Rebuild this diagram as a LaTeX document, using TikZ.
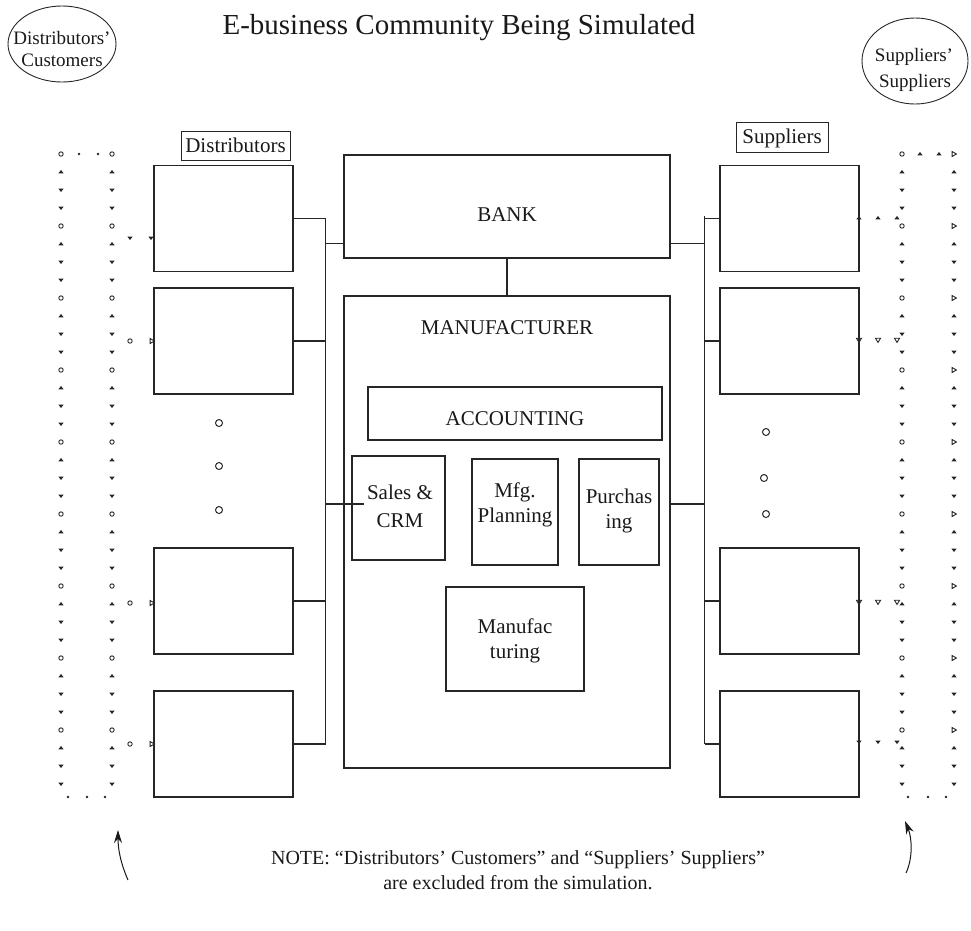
\documentclass[tikz,border=0pt]{standalone}
\usepackage{fontspec}
\setmainfont{Liberation Serif}
\usetikzlibrary{arrows.meta,shapes.geometric}
\tikzset{
  box/.style={draw=black!85, line width=1.1pt, rectangle, inner sep=0pt},
  oval/.style={draw=black!85, line width=0.9pt, ellipse, inner sep=0pt},
  wire/.style={draw=black!85, line width=1.1pt},
  txt/.style={font=\fontsize{21}{25}\selectfont, inner sep=0pt, anchor=base, text=black!90},
  smalltxt/.style={font=\fontsize{19}{23}\selectfont, inner sep=0pt, anchor=base, text=black!90},
  titletxt/.style={font=\fontsize{29}{33}\selectfont, inner sep=0pt, anchor=base, text=black!90},
  notetxt/.style={font=\fontsize{20}{24}\selectfont, inner sep=0pt, anchor=base, text=black!90},
  mk/.style={line width=0.9pt, draw=black!85},
  mo/.pic={\draw[mk] (0,0) circle (2.2);},
  mu/.pic={\fill[black!85] (-2.6,1.3) -- (2.6,1.3) -- (0,-2) -- cycle;},
  md/.pic={\fill[black!85] (-2.6,-1.3) -- (2.6,-1.3) -- (0,2) -- cycle;},
  mdo/.pic={\draw[mk] (-2.6,-1.8) -- (2.6,-1.8) -- (0,2.4) -- cycle;},
  mr/.pic={\draw[mk] (-1.9,-2.5) -- (2.4,0) -- (-1.9,2.5) -- cycle;},
  mdot/.pic={\fill[black!85] (0,0) circle (1.4);},
  ell/.pic={\draw[line width=1pt, draw=black!85] (0,0) circle (3.5);},
  arr/.style={draw=black!90, line width=1pt, -{Stealth[length=13pt,width=8pt]}},
}
\begin{document}
\begin{tikzpicture}[x=1pt,y=-1pt]
\useasboundingbox (0,0) rectangle (971,930);

% title
\node[titletxt] (title) at (459,34.3) {E-business Community Being Simulated};

% outside ellipses
\node[oval, minimum width=108pt, minimum height=76pt] (dcust) at (62,44) {};
\node[smalltxt] (dcustA) at (62,44) {Distributors’};
\node[smalltxt] (dcustB) at (62,66) {Customers};
\node[oval, minimum width=106pt, minimum height=86pt] (ssup) at (915,61) {};
\node[smalltxt] (ssupA) at (914,61) {Suppliers’};
\node[smalltxt] (ssupB) at (915,87) {Suppliers};

% group labels
\node[box, line width=0.9pt, minimum width=109pt, minimum height=29pt] (dlab) at (235.5,145.5) {};
\node[txt] (dlabt) at (235.5,152.5) {Distributors};
\node[box, line width=0.9pt, minimum width=92pt, minimum height=30pt] (slab) at (782,137) {};
\node[txt] (slabt) at (782,143) {Suppliers};

% distributor boxes
\node[box, minimum width=139pt, minimum height=106pt] (d1) at (223.5,218.5) {};
\node[box, minimum width=139pt, minimum height=106pt] (d2) at (223.5,341) {};
\node[box, minimum width=139pt, minimum height=106pt] (d3) at (223.5,601) {};
\node[box, minimum width=139pt, minimum height=106pt] (d4) at (223.5,744) {};
% supplier boxes
\node[box, minimum width=139pt, minimum height=106pt] (s1) at (789.5,218.5) {};
\node[box, minimum width=139pt, minimum height=106pt] (s2) at (789.5,341) {};
\node[box, minimum width=139pt, minimum height=106pt] (s3) at (789.5,601) {};
\node[box, minimum width=139pt, minimum height=106pt] (s4) at (789.5,744) {};

% bank and manufacturer
\node[box, minimum width=326pt, minimum height=103pt] (bank) at (507,206.5) {};
\node[txt] (bankt) at (507,221) {BANK};
\node[box, minimum width=326pt, minimum height=472pt] (manuf) at (507,532) {};
\node[txt] (manuft) at (507,334) {MANUFACTURER};
\node[box, minimum width=294pt, minimum height=53pt] (acct) at (515,413.5) {};
\node[txt] (acctt) at (515,425) {ACCOUNTING};
\node[box, minimum width=93pt, minimum height=104pt] (sales) at (398.5,508) {};
\node[txt] (salesA) at (400,499) {Sales \&};
\node[txt] (salesB) at (400,527.5) {CRM};
\node[box, minimum width=86pt, minimum height=106pt] (mfg) at (515,512) {};
\node[txt] (mfgA) at (515,497) {Mfg.};
\node[txt] (mfgB) at (515,522) {Planning};
\node[box, minimum width=80pt, minimum height=106pt] (purch) at (619,512) {};
\node[txt] (purchA) at (619,503) {Purchas};
\node[txt] (purchB) at (619,528) {ing};
\node[box, minimum width=138pt, minimum height=104pt] (mfgr) at (515,639) {};
\node[txt] (mfgrA) at (515,633) {Manufac};
\node[txt] (mfgrB) at (515,658) {turing};

% buses
\coordinate (lbT) at (325.5,218.5);
\coordinate (lbB) at (325.5,744);
\coordinate (rbT) at (704.5,216);
\coordinate (rbB) at (704.5,744);
\draw[wire] (lbT) -- (lbB);
\draw[wire] (rbT) -- (rbB);
\foreach \b in {d1,d2,d3,d4} \draw[wire] (\b.east) -- (\b.east -| lbT);
\foreach \b in {s1,s2,s3,s4} \draw[wire] (\b.west) -- (\b.west -| rbT);
\draw[wire] ([yshift=15pt]bank.south west) -- ([yshift=15pt]bank.south west -| lbT);
\draw[wire] ([yshift=15pt]bank.south east) -- ([yshift=15pt]bank.south east -| rbT);
\draw[wire] (bank.south) -- (manuf.north);
\coordinate (salesin) at (364,504);
\draw[wire] (salesin) -- (salesin -| lbT);
\draw[wire] (manuf.east |- salesin) -- (salesin -| rbT);

% dotted excluded columns
\foreach \k in {1,...,35} {
  \pgfmathtruncatemacro\m{mod(\k,4)}
  \pgfmathsetmacro\yy{154+18*\k}
  \ifnum\m=0
    \pic at (61,\yy) {mo}; \pic at (112,\yy) {mo};
    \pic at (902,\yy) {mo}; \pic at (954,\yy) {mr};
  \else\ifnum\m=1
    \pic at (61,\yy) {mu}; \pic at (112,\yy) {mu};
    \pic at (902,\yy) {mu}; \pic at (954,\yy) {mu};
  \else
    \pic at (61,\yy) {md}; \pic at (112,\yy) {md};
    \pic at (902,\yy) {md}; \pic at (954,\yy) {md};
  \fi\fi
}
\pic at (61,154) {mo}; \pic at (79,154) {mdot}; \pic at (98,154) {mdot}; \pic at (112,154) {mo};
\pic at (902,154) {mo}; \pic at (920,154) {mu}; \pic at (939,154) {mu}; \pic at (954,154) {mr};
\foreach \x in {68,87,105} \pic at (\x,797) {mdot};
\foreach \x in {908,928,946} \pic at (\x,797) {mdot};

% dotted links to boxes
\pic at (130,238) {md}; \pic at (151,238) {md};
\foreach \y in {341,603,744} { \pic at (130,\y) {mo}; \pic at (152,\y) {mr}; }
\foreach \x in {859,878,897} {
  \pic at (\x,218) {mu};
  \pic at (\x,340) {mdo};
  \pic at (\x,602) {mdo};
  \pic at (\x,742) {md};
}

% vertical ellipses
\pic at (219,423) {ell}; \pic at (219,466) {ell}; \pic at (219,510) {ell};
\pic at (766,432) {ell}; \pic at (764,478) {ell}; \pic at (766,514) {ell};

% curved arrows
\coordinate (la1) at (128,880);
\coordinate (la2) at (118,830);
\coordinate (ra1) at (906,873);
\coordinate (ra2) at (905,821);
\draw[arr] (la1) .. controls (121,864) and (118,850) .. (la2);
\draw[arr] (ra1) .. controls (913,858) and (912,838) .. (ra2);

% note
\node[notetxt] (noteA) at (518,864) {NOTE: “Distributors’ Customers” and “Suppliers’ Suppliers”};
\node[notetxt] (noteB) at (518,889) {are excluded from the simulation.};
\end{tikzpicture}
\end{document}
